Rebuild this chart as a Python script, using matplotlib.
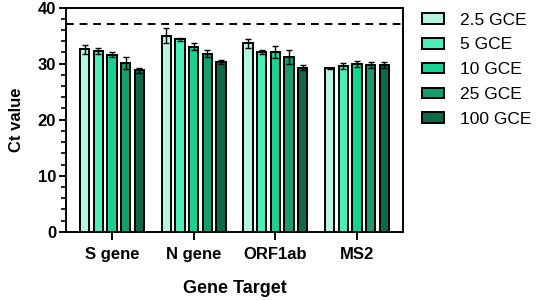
import numpy as np
import matplotlib.pyplot as plt
from matplotlib.ticker import MultipleLocator

plt.rcParams['font.family'] = ['Liberation Sans', 'DejaVu Sans']

genes = ['S gene', 'N gene', 'ORF1ab', 'MS2']
series = ['2.5 GCE', '5 GCE', '10 GCE', '25 GCE', '100 GCE']
colors = ['#b3f5e1', '#4cedb8', '#17d391', '#199d6a', '#0c6b46']

# Ct means per series, one value per gene target
ct_25 = [32.6, 35.0, 33.6, 29.2]
ct_5 = [32.3, 34.3, 32.1, 29.6]
ct_10 = [31.6, 33.0, 32.1, 29.9]
ct_25gce = [30.1, 31.8, 31.2, 29.8]
ct_100 = [28.8, 30.3, 29.3, 29.8]

sd_25 = [0.8, 1.4, 0.8, 0.1]
sd_5 = [0.5, 0.2, 0.3, 0.5]
sd_10 = [0.5, 0.6, 1.1, 0.5]
sd_25gce = [1.0, 0.7, 1.3, 0.5]
sd_100 = [0.4, 0.4, 0.4, 0.5]

cutoff = 37

means = [ct_25, ct_5, ct_10, ct_25gce, ct_100]
sds = [sd_25, sd_5, sd_10, sd_25gce, sd_100]

fig = plt.figure(figsize=(5.36, 3.0), dpi=100)
ax = fig.add_axes([0.123, 0.227, 0.629, 0.748])

x = np.arange(len(genes))
step = 0.167
width = 0.115
for i, (m, s) in enumerate(zip(means, sds)):
    pos = x + (i - 2) * step
    ax.bar(pos, m, width=width, color=colors[i], edgecolor='black',
           linewidth=1.4, label=series[i], zorder=2)
    ax.errorbar(pos, m, yerr=s, fmt='none', ecolor='black', elinewidth=1,
                capsize=2.5, capthick=1, zorder=3)

ax.axhline(cutoff, color='black', linestyle=(0, (4, 3)), linewidth=1.4, zorder=1)

ax.set_xlim(-0.563, 3.563)
ax.set_ylim(0, 40)
ax.set_xticks(x)
ax.set_xticklabels(genes, fontsize=12, fontweight='bold')
ax.yaxis.set_major_locator(MultipleLocator(10))
ax.yaxis.set_minor_locator(MultipleLocator(2))
for lab in ax.get_yticklabels():
    lab.set_fontweight('bold')
    lab.set_fontsize(12)
ax.tick_params(axis='x', which='major', length=6, width=1.4, pad=5)
ax.tick_params(axis='y', which='major', length=5, width=1.4, pad=2)
ax.tick_params(axis='y', which='minor', length=3.5, width=1.2)
for sp in ax.spines.values():
    sp.set_linewidth(1.4)

ax.set_xlabel('Gene Target', fontsize=13, fontweight='bold', labelpad=13)
ax.set_ylabel('Ct value', fontsize=12, fontweight='bold', labelpad=10)

fig.legend(loc='upper left', bbox_to_anchor=(0.777, 0.975), frameon=False,
           fontsize=12.5, handlelength=1.3, handleheight=0.55,
           handletextpad=0.9, labelspacing=0.56, borderaxespad=0.0,
           borderpad=0.3)

fig.savefig('out.png', dpi=100)
